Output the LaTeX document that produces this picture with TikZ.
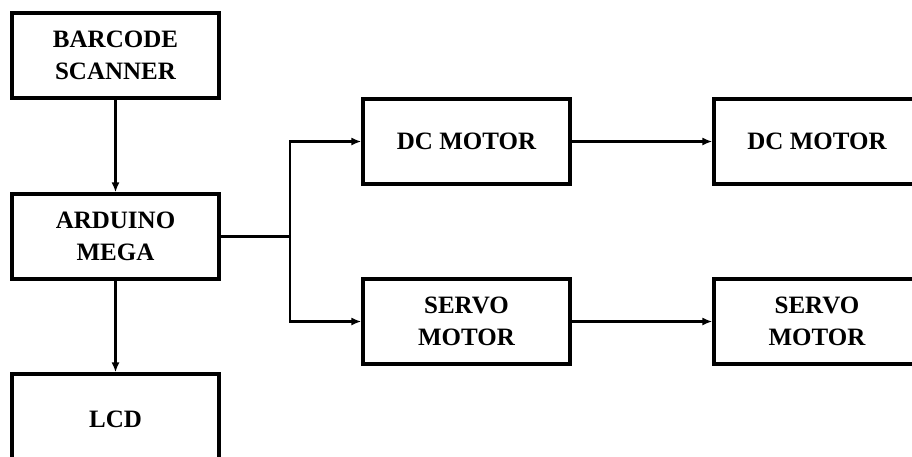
\documentclass[tikz,border=0pt]{standalone}
\usepackage{fontspec}
\setmainfont{Liberation Serif}
\usetikzlibrary{arrows.meta}
\begin{document}
\begin{tikzpicture}[x=1pt,y=-1pt,
  txt/.style={font=\fontsize{25}{31.5}\selectfont\bfseries,align=center},
  blk/.style={txt,draw=black,line width=3.2pt,minimum width=207pt,minimum height=85pt,inner sep=0pt},
  conn/.style={line width=2.1pt},
  arr/.style={conn,-{Latex[length=10pt,width=8pt]}}]
\useasboundingbox[fill=white] (0,0) rectangle (912,456);
\node[blk] (bar) at (115.5,55.5) {BARCODE\\SCANNER};
\node[blk] (ard) at (115.5,236.5) {ARDUINO\\MEGA};
\node[blk,minimum height=90pt] (lcd) at (115.5,419) {LCD};
\node[blk] (dc1) at (466.5,141.5) {DC MOTOR};
\node[blk] (sv1) at (466.5,321.5) {SERVO\\MOTOR};
\node[blk,minimum width=212pt] (dc2) at (820,141.5) {};
\node[blk,minimum width=212pt] (sv2) at (820,321.5) {};
\node[txt] (dc2t) at (817,141.5) {DC MOTOR};
\node[txt] (sv2t) at (817,321.5) {SERVO\\MOTOR};
\coordinate (j) at (290,236.5);
\draw[arr] (bar.south) -- (ard.north);
\draw[arr] (ard.south) -- (lcd.north);
\draw[conn] (ard.east) -- (j);
\draw[arr] (j) |- (dc1.west);
\draw[arr] (j) |- (sv1.west);
\draw[arr] (dc1.east) -- (dc2.west);
\draw[arr] (sv1.east) -- (sv2.west);
\end{tikzpicture}
\end{document}
